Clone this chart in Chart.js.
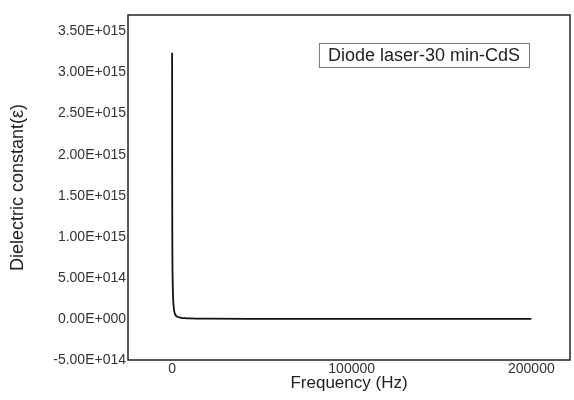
<!DOCTYPE html>
<html>
<head>
<meta charset="utf-8">
<script src="https://cdn.jsdelivr.net/npm/chart.js@4.4.1/dist/chart.umd.min.js"></script>
<style>
    html, body { margin: 0; padding: 0; background: #fff; }
    #wrap { width: 574px; height: 400px; }
</style>
</head>
<body>
<div id="wrap"><canvas id="chart"></canvas></div>
<script>
// frequency (Hz) and dielectric constant
const frequencies = [50, 100, 200, 300, 500, 700, 1000, 1500, 2000, 3000, 5000, 7000, 10000, 20000, 50000, 100000, 150000, 200000];
const dielectric = [3.24e15, 1.62e15, 8.1e14, 5.4e14, 3.2e14, 2.2e14, 1.3e14, 7e13, 4.5e13, 2.6e13, 1.4e13, 9e12, 6e12, 3e12, 1.2e12, 6e11, 4e11, 3e11];
const seriesLabel = "Diode laser-30 min-CdS";

const xTicks = [0, 100000, 200000];
const yTicks = [-5e14, 0, 5e14, 1e15, 1.5e15, 2e15, 2.5e15, 3e15, 3.5e15];

const fontFamily = "'Liberation Sans', Arial, sans-serif";

function sciLabel(value) {
    if (Math.abs(value) < 1) return "0.00E+000";
    const exp = Math.floor(Math.log10(Math.abs(value)) + 1e-9);
    const mant = value / Math.pow(10, exp);
    return mant.toFixed(2) + "E" + (exp < 0 ? "-" : "+") + String(Math.abs(exp)).padStart(3, "0");
}

// frame round the plot and the boxed label
const framePlugin = {
    id: "frame",
    afterDatasetsDraw(chart) {
        const {ctx, chartArea} = chart;
        ctx.save();
        ctx.strokeStyle = "#222";
        ctx.lineWidth = 1.5;
        ctx.strokeRect(chartArea.left, chartArea.top, chartArea.right - chartArea.left, chartArea.bottom - chartArea.top);

        ctx.font = "18px " + fontFamily;
        const text = chart.data.datasets[0].label;
        const w = ctx.measureText(text).width + 18;
        const h = 24;
        const x = chartArea.right - 41 - w;
        const y = chartArea.top + 28;
        ctx.strokeStyle = "#777";
        ctx.lineWidth = 1;
        ctx.strokeRect(x + 0.5, y + 0.5, w, h);
        ctx.fillStyle = "#222";
        ctx.textBaseline = "middle";
        ctx.textAlign = "center";
        ctx.fillText(text, x + w / 2, y + h / 2 + 1);
        ctx.restore();
    }
};

new Chart(document.getElementById("chart"), {
    type: "line",
    data: {
        datasets: [
            {
                label: seriesLabel,
                data: frequencies.map((f, i) => ({x: f, y: dielectric[i]})),
                borderColor: "#111",
                borderWidth: 1.8,
                pointRadius: 0,
                cubicInterpolationMode: "monotone",
                fill: false,
            },
        ],
    },
    options: {
        responsive: true,
        maintainAspectRatio: false,
        animation: false,
        layout: {
            padding: {top: 15, right: 4, left: 0, bottom: 0},
        },
        plugins: {
            legend: {display: false},
            tooltip: {enabled: false},
        },
        scales: {
            x: {
                type: "linear",
                min: -24500,
                max: 221500,
                afterBuildTicks: (scale) => { scale.ticks = xTicks.map(v => ({value: v})); },
                afterFit: (scale) => { scale.height = 40; },
                grid: {display: false, drawTicks: false},
                border: {display: false},
                ticks: {
                    maxRotation: 0,
                    autoSkip: false,
                    padding: 1,
                    color: "#333",
                    font: {family: fontFamily, size: 14},
                    callback: (v) => String(v),
                },
                title: {
                    display: true,
                    text: "Frequency (Hz)",
                    color: "#222",
                    font: {family: fontFamily, size: 17},
                    padding: {top: 0, bottom: 6},
                },
            },
            y: {
                min: -5e14,
                max: 3.7e15,
                afterBuildTicks: (scale) => { scale.ticks = yTicks.map(v => ({value: v})); },
                afterFit: (scale) => { scale.width = 128; },
                grid: {display: false, drawTicks: false},
                border: {display: false},
                ticks: {
                    autoSkip: false,
                    padding: 2,
                    color: "#333",
                    font: {family: fontFamily, size: 14},
                    callback: (v) => sciLabel(v),
                },
                title: {
                    display: true,
                    text: "Dielectric constant(ε)",
                    color: "#222",
                    font: {family: fontFamily, size: 18},
                    padding: {top: 7, bottom: 0},
                },
            },
        },
    },
    plugins: [framePlugin],
});
</script>
</body>
</html>
